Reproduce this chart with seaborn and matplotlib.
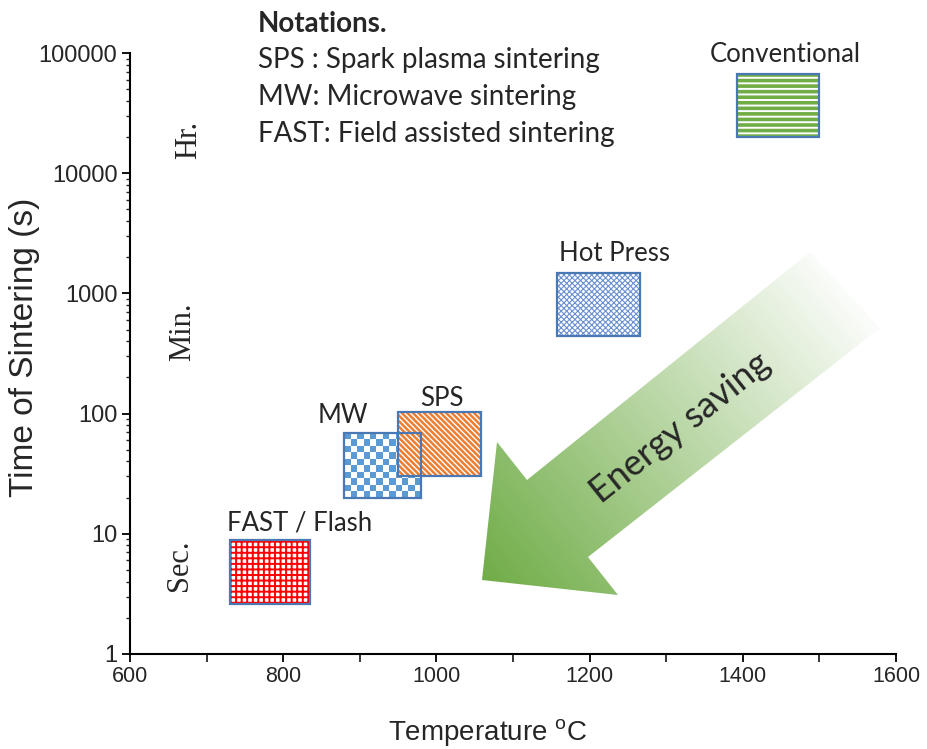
import numpy as np
import pandas as pd
import matplotlib
matplotlib.use("Agg")
import matplotlib.pyplot as plt
from matplotlib import font_manager
from matplotlib.patches import Polygon
from matplotlib.colors import ListedColormap, to_rgb
from matplotlib.ticker import FixedLocator, LogLocator, NullFormatter
import seaborn as sns

# ---- processing windows: temperature range (deg C) and time range (s) ----
methods = ["FAST / Flash", "MW", "SPS", "Hot Press", "Conventional"]
temp_low = [730, 880, 950, 1157, 1392]
temp_high = [835, 980, 1058, 1266, 1500]
time_low = [2.6, 20, 30, 440, 20000]
time_high = [8.8, 69, 103, 1480, 67000]

# label anchors (centre x, baseline y) in data units
label_x = [822, 878, 1007, 1233, 1455]
label_y = [10.6, 84, 116, 1850, 84000]

# time-scale markers on the left
scale_names = ["Hr.", "Min.", "Sec."]
scale_x = [676, 669, 665]
scale_y = [18900, 478, 5.5]

notes_title = "Notations."
notes = ["SPS : Spark plasma sintering",
         "MW: Microwave sintering",
         "FAST: Field assisted sintering"]

df = pd.DataFrame({"method": methods, "t0": temp_low, "t1": temp_high,
                   "s0": time_low, "s1": time_high})

sns.set_style("ticks")

names = {f.name for f in font_manager.fontManager.ttflist}
narrow = "Liberation Sans Narrow" if "Liberation Sans Narrow" in names else "Liberation Sans"
ui_font = "Lato"

fig = plt.figure(figsize=(9.27, 7.49), dpi=100)
ax = fig.add_axes([130 / 927, 95 / 749, 766 / 927, 601 / 749])
ax.set_yscale("log")

edge = "#4A78B4"
styles = {
    "FAST / Flash": dict(hatch="+++", color="#FF0000", lw=1.4),
    "SPS": dict(hatch="\\\\\\\\\\\\", color="#ED7D31", lw=1.8),
    "Hot Press": dict(hatch="xxxxxx", color="#6A90D2", lw=0.8),
    "Conventional": dict(hatch="---", color="#70AD47", lw=2.6),
}

for i, r in df.iterrows():
    w = r.t1 - r.t0
    h = r.s1 - r.s0
    if r.method == "MW":
        # checkerboard fill
        nx, ny = 12, 10
        xe = np.linspace(r.t0, r.t1, nx + 1)
        ye = np.geomspace(r.s0, r.s1, ny + 1)
        cells = (np.add.outer(np.arange(ny), np.arange(nx)) % 2).astype(float)
        ax.pcolormesh(xe, ye, cells, cmap=ListedColormap(["white", "#5B9BD5"]),
                      vmin=0, vmax=1, zorder=3, shading="flat")
    else:
        st = styles[r.method]
        bars = ax.bar(r.t0, h, bottom=r.s0, width=w, align="edge",
                      color="white", edgecolor=st["color"], hatch=st["hatch"],
                      linewidth=0, zorder=3)
        for b in bars:
            try:
                b.set_hatch_linewidth(st["lw"])
            except AttributeError:
                pass
    ax.bar(r.t0, h, bottom=r.s0, width=w, align="edge", fill=False,
           edgecolor=edge, linewidth=1.6, zorder=4)

for name, x, y in zip(methods, label_x, label_y):
    ax.text(x, y, name, ha="center", va="baseline", fontsize=18.5,
            family=ui_font, zorder=5)

for name, x, y in zip(scale_names, scale_x, scale_y):
    ax.text(x, y, name, rotation=90, ha="center", va="center", fontsize=22,
            family="Liberation Serif")

# gradient arrow pointing to low temperature / short time
verts = np.array([(810, 252), (880, 328), (588, 557), (618, 595),
                  (482, 580), (497, 442), (527, 480)], dtype=float)
ax_px = np.column_stack([(verts[:, 0] - 130) / 766, (654 - verts[:, 1]) / 601])
poly = Polygon(ax_px, closed=True, transform=ax.transAxes, facecolor="none",
               edgecolor="none")
ax.add_patch(poly)
H, W = 601, 766
gx, gy = np.meshgrid(np.arange(W) + 0.5, np.arange(H) + 0.5)
tail = np.array([845.0 - 130, 654 - 290.0])
tip = np.array([482.0 - 130, 654 - 580.0])
d = tip - tail
t = ((gx - tail[0]) * d[0] + (gy - tail[1]) * d[1]) / (d @ d)
t = np.clip(t, 0, 1)
rgba = np.zeros((H, W, 4))
rgba[..., :3] = to_rgb("#6FAC46")
rgba[..., 3] = 0.03 + 0.97 * t ** 1.0
img = ax.imshow(rgba, extent=[0, 1, 0, 1], transform=ax.transAxes,
                origin="lower", aspect="auto", zorder=2, interpolation="bilinear")
img.set_clip_path(poly)
ax.text(0.718, 0.376, "Energy saving", transform=ax.transAxes, rotation=38.6,
        rotation_mode="anchor", ha="center", va="center", fontsize=26,
        family=ui_font, zorder=5)

# notations block
fig.text(258 / 927, 1 - 32 / 749, notes_title, fontsize=20, fontweight="bold",
         family=ui_font, va="baseline")
for k, line in enumerate(notes):
    fig.text(258 / 927, 1 - (68 + 37 * k) / 749, line, fontsize=20,
             family=ui_font, va="baseline")

ax.set_xlim(600, 1600)
ax.set_ylim(1, 100000)
ax.xaxis.set_major_locator(FixedLocator([600, 800, 1000, 1200, 1400, 1600]))
ax.xaxis.set_minor_locator(FixedLocator([700, 900, 1100, 1300, 1500]))
ax.yaxis.set_minor_locator(LogLocator(base=10, subs=np.arange(2, 10), numticks=20))
ax.yaxis.set_minor_formatter(NullFormatter())
ax.set_yticks([1, 10, 100, 1000, 10000, 100000])
ax.set_yticklabels(["1", "10", "100", "1000", "10000", "100000"])

ax.tick_params(axis="both", which="major", direction="out", length=6, width=1.3,
               color="black", pad=3)
ax.tick_params(axis="x", which="minor", direction="out", length=6, width=1.3)
ax.tick_params(axis="y", which="minor", direction="out", length=3, width=1.0)
for lab in ax.get_xticklabels():
    lab.set_fontfamily(narrow)
    lab.set_fontsize(15.5)
for lab in ax.get_yticklabels():
    lab.set_fontfamily("Liberation Sans")
    lab.set_fontsize(17)

ax.set_xlabel("Temperature $^{\\mathregular{o}}$C", family=narrow, fontsize=20)
ax.xaxis.set_label_coords(0.467, -0.105)
ax.set_ylabel("Time of Sintering (s)", family="Liberation Sans", fontsize=24)
ax.yaxis.set_label_coords(-0.118, 0.51)

sns.despine(ax=ax)
for s in ["left", "bottom"]:
    ax.spines[s].set_linewidth(1.5)
    ax.spines[s].set_color("black")
ax.set_facecolor("white")
fig.patch.set_facecolor("white")

fig.savefig("out.png", dpi=100)
